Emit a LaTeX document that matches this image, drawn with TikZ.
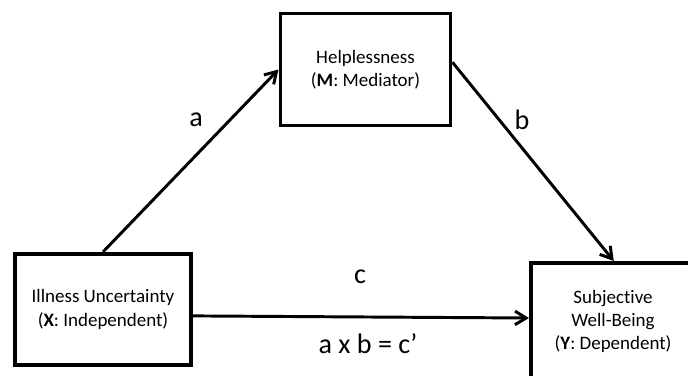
\documentclass[tikz,border=0pt]{standalone}
\usepackage{fontspec}
\setmainfont{Carlito}[Ligatures = {TeX, NoCommon}]
\usetikzlibrary{arrows.meta}

\tikzset{
  varbox/.style = {draw, line width = 2.8pt, align = center,
    minimum width = 4.3cm, minimum height = 2.8cm,
    font = \fontsize{13.5}{16.5}\selectfont},
  path/.style = {-{Straight Barb[length=0.28cm, width=0.34cm]}, line width = 2.1pt},
  coef/.style = {font = \fontsize{20}{24}\selectfont}
}

\begin{document}
\begin{tikzpicture}[x = 0.025cm, y = -0.025cm]
\useasboundingbox (0, 0) rectangle (688, 375);

\node[varbox, minimum width = 4.25cm] (help) at (365.5, 69.5) {Helplessness\\(\textbf{M}: Mediator)};
\node[varbox, minimum width = 4.4cm, minimum height = 2.78cm] (ill) at (103, 309.5) {Illness Uncertainty\\(\textbf{X}: Independent)};
% box runs past the right and bottom edges of the page
\node[varbox, minimum width = 4.7cm, minimum height = 2.95cm, anchor = west] (swb) at (529, 322)
  {\begin{tabular}{@{}c@{}}Subjective\\Well-Being\\(\textbf{Y}: Dependent)\end{tabular}\hspace*{0.6cm}};

\draw[path] (ill.north) -- (help.west);
\draw[path] ([yshift = 0.18cm]help.east) -- ([xshift = -0.28cm]swb.north);
\draw[path] ([yshift = -0.16cm]ill.east) -- ([yshift = 0.1cm]swb.west);

\node[coef] (a) at (196, 120) {a};
\node[coef] (b) at (522, 120) {b};
\node[coef] (c) at (360, 277) {c};
\node[coef] (ab) at (368, 344) {a x b = c’};
\end{tikzpicture}
\end{document}
